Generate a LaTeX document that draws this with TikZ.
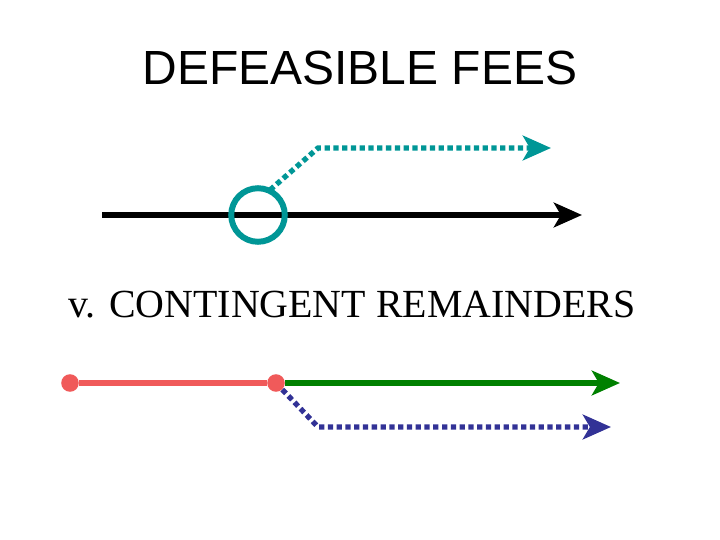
\documentclass[tikz,border=0pt]{standalone}
\usepackage{fontspec}
\setmainfont{Liberation Serif}
\newfontfamily\arialf{Liberation Sans}
\usetikzlibrary{arrows.meta}
\definecolor{tealc}{RGB}{0,150,150}
\definecolor{redc}{RGB}{240,90,90}
\definecolor{greenc}{RGB}{0,128,0}
\definecolor{bluec}{RGB}{50,50,150}
\begin{document}
\begin{tikzpicture}[x=0.02cm,y=-0.02cm,
  tip/.style={-{Stealth[length=16pt,width=14pt,inset=4pt]}},
  dots/.style={line width=3pt,dash pattern=on 3pt off 2pt},
  solidl/.style={line width=3pt},
  dotnode/.style={circle,fill=redc,inner sep=0pt,minimum size=10pt}]
\useasboundingbox (0,0) rectangle (720,540);
\node[font=\arialf\fontsize{27.3}{32}\selectfont] (title) at (360,68) {DEFEASIBLE FEES};
\node[font=\fontsize{22.7}{28}\selectfont] (sub) at (352,305) {v. CONTINGENT REMAINDERS};
\coordinate (b0) at (102,215); \coordinate (b1) at (582,215);
\draw[solidl,black,tip] (b0) -- (b1);
\coordinate (t0) at (270,190); \coordinate (t1) at (318,148); \coordinate (t2) at (551,148);
\draw[dots,tealc,tip] (t0) -- (t1) -- (t2);
\node[circle,draw=tealc,line width=3.4pt,minimum size=30.5pt,inner sep=0pt] (c) at (258,215) {};
\node[dotnode] (r0) at (70,383) {};
\node[dotnode] (r1) at (276,383) {};
\coordinate (g1) at (620,383);
\coordinate (u1) at (318,427); \coordinate (u2) at (611,427);
\draw[dots,bluec,tip] (r1) -- (u1) -- (u2);
\draw[solidl,greenc,tip] (r1) -- (g1);
\draw[solidl,redc] (r0) -- (r1);
\end{tikzpicture}
\end{document}
